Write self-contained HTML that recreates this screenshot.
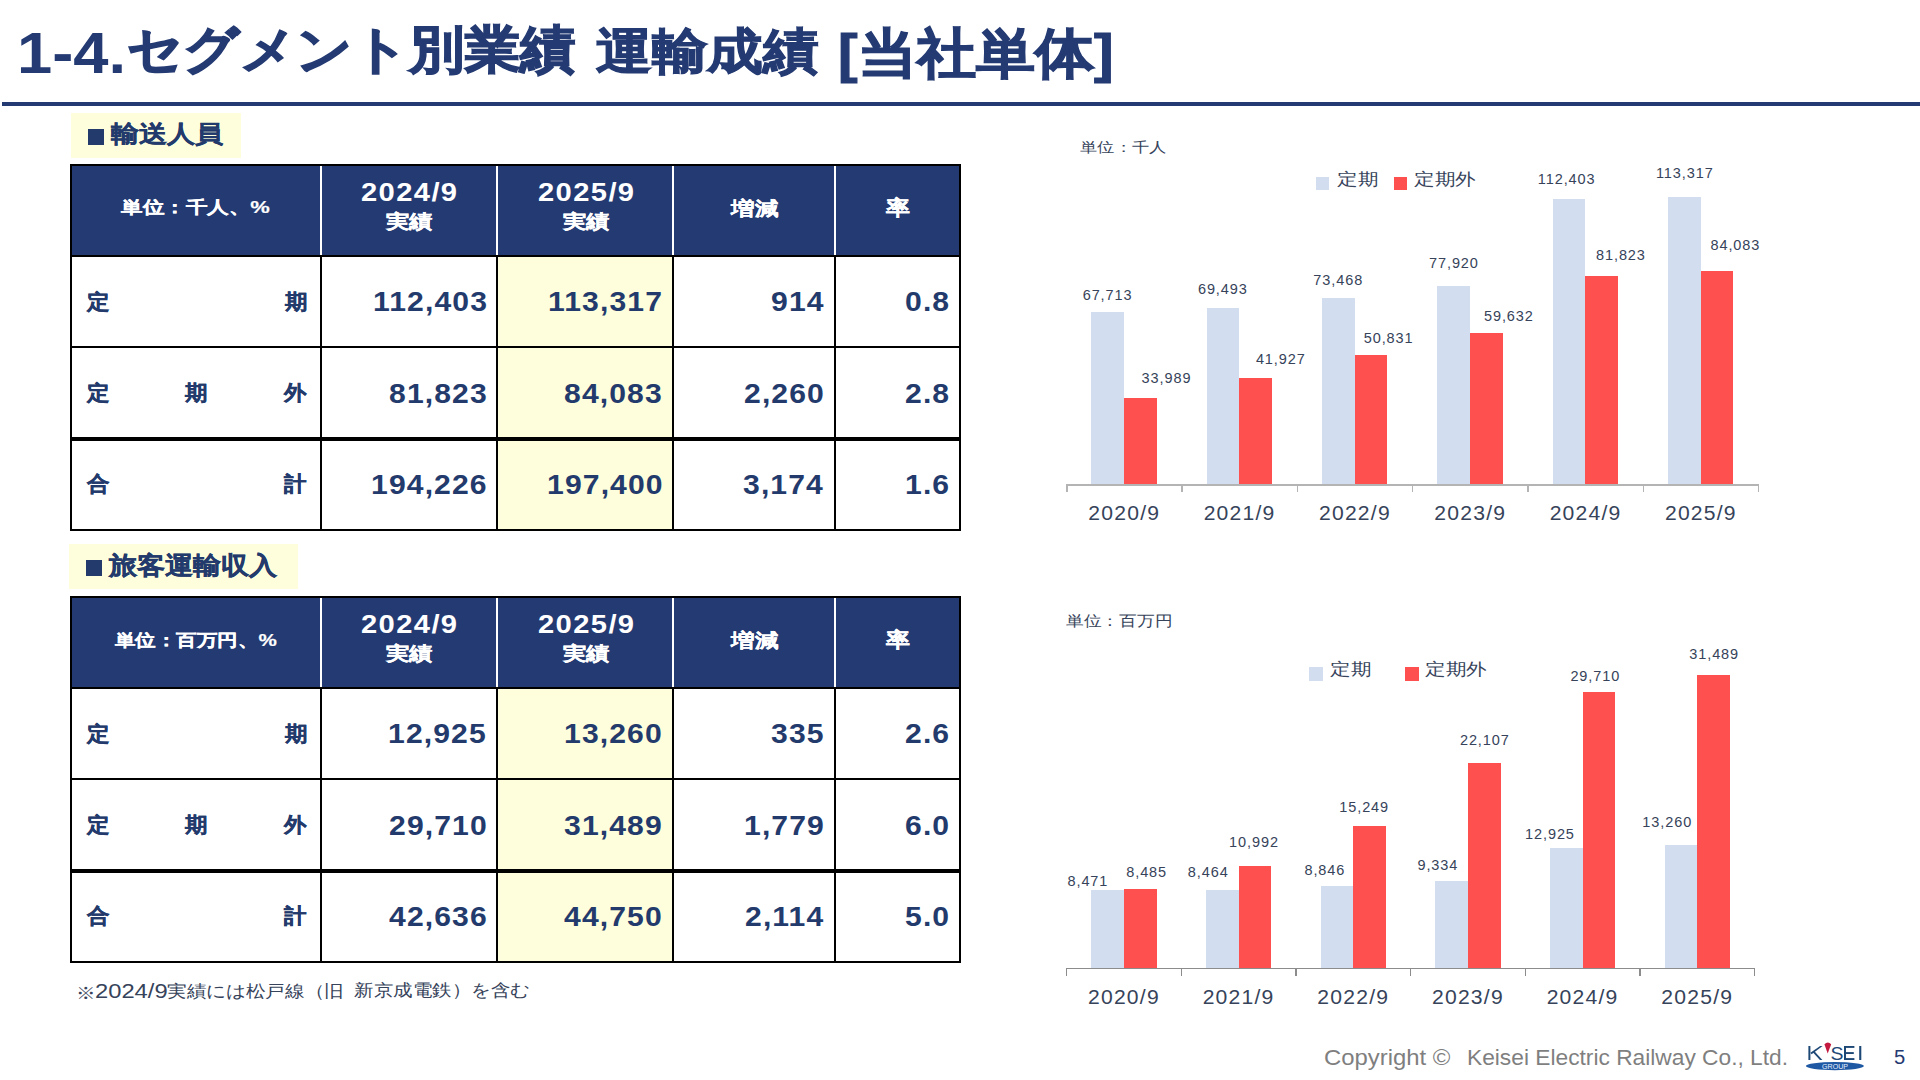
<!DOCTYPE html>
<html lang="ja"><head><meta charset="utf-8"><title>1-4.セグメント別業績 運輸成績</title>
<style>
html,body{margin:0;padding:0;}
body{width:1920px;height:1080px;position:relative;overflow:hidden;background:#fff;font-family:"Liberation Sans",sans-serif;}
.r{position:absolute;}
.t{position:absolute;white-space:pre;transform-origin:0 0;}
</style></head><body>
<div class="r" style="left:2.00px;top:102.00px;width:1918.00px;height:4.00px;background:#243a73;"></div>
<div class="r" style="left:71.00px;top:113.00px;width:170.00px;height:45.00px;background:#fefedc;"></div>
<div class="r" style="left:69.00px;top:544.00px;width:228.60px;height:45.00px;background:#fefedc;"></div>
<div class="r" style="left:88.00px;top:129.40px;width:16.30px;height:15.60px;background:#233a6c;"></div>
<div class="r" style="left:86.00px;top:560.00px;width:15.70px;height:15.50px;background:#233a6c;"></div>
<div class="r" style="left:70.00px;top:164.00px;width:891.00px;height:93.00px;background:#243a73;"></div>
<div class="r" style="left:498.00px;top:257.00px;width:175.00px;height:273.00px;background:#fefedc;"></div>
<div class="r" style="left:320.00px;top:166.00px;width:2.00px;height:89.00px;background:#ffffff;"></div>
<div class="r" style="left:496.00px;top:166.00px;width:2.00px;height:89.00px;background:#ffffff;"></div>
<div class="r" style="left:672.00px;top:166.00px;width:2.00px;height:89.00px;background:#ffffff;"></div>
<div class="r" style="left:834.00px;top:166.00px;width:2.00px;height:89.00px;background:#ffffff;"></div>
<div class="r" style="left:70.00px;top:164.00px;width:891.00px;height:2.00px;background:#000;"></div>
<div class="r" style="left:70.00px;top:529.00px;width:891.00px;height:2.00px;background:#000;"></div>
<div class="r" style="left:70.00px;top:164.00px;width:2.00px;height:367.00px;background:#000;"></div>
<div class="r" style="left:959.00px;top:164.00px;width:2.00px;height:367.00px;background:#000;"></div>
<div class="r" style="left:70.00px;top:255.00px;width:891.00px;height:2.00px;background:#000;"></div>
<div class="r" style="left:70.00px;top:346.00px;width:891.00px;height:2.00px;background:#000;"></div>
<div class="r" style="left:70.00px;top:437.00px;width:891.00px;height:4.00px;background:#000;"></div>
<div class="r" style="left:320.00px;top:255.00px;width:2.00px;height:276.00px;background:#000;"></div>
<div class="r" style="left:496.00px;top:255.00px;width:2.00px;height:276.00px;background:#000;"></div>
<div class="r" style="left:672.00px;top:255.00px;width:2.00px;height:276.00px;background:#000;"></div>
<div class="r" style="left:834.00px;top:255.00px;width:2.00px;height:276.00px;background:#000;"></div>
<div class="r" style="left:70.00px;top:596.00px;width:891.00px;height:93.00px;background:#243a73;"></div>
<div class="r" style="left:498.00px;top:689.00px;width:175.00px;height:273.00px;background:#fefedc;"></div>
<div class="r" style="left:320.00px;top:598.00px;width:2.00px;height:89.00px;background:#ffffff;"></div>
<div class="r" style="left:496.00px;top:598.00px;width:2.00px;height:89.00px;background:#ffffff;"></div>
<div class="r" style="left:672.00px;top:598.00px;width:2.00px;height:89.00px;background:#ffffff;"></div>
<div class="r" style="left:834.00px;top:598.00px;width:2.00px;height:89.00px;background:#ffffff;"></div>
<div class="r" style="left:70.00px;top:596.00px;width:891.00px;height:2.00px;background:#000;"></div>
<div class="r" style="left:70.00px;top:961.00px;width:891.00px;height:2.00px;background:#000;"></div>
<div class="r" style="left:70.00px;top:596.00px;width:2.00px;height:367.00px;background:#000;"></div>
<div class="r" style="left:959.00px;top:596.00px;width:2.00px;height:367.00px;background:#000;"></div>
<div class="r" style="left:70.00px;top:687.00px;width:891.00px;height:2.00px;background:#000;"></div>
<div class="r" style="left:70.00px;top:778.00px;width:891.00px;height:2.00px;background:#000;"></div>
<div class="r" style="left:70.00px;top:869.00px;width:891.00px;height:4.00px;background:#000;"></div>
<div class="r" style="left:320.00px;top:687.00px;width:2.00px;height:276.00px;background:#000;"></div>
<div class="r" style="left:496.00px;top:687.00px;width:2.00px;height:276.00px;background:#000;"></div>
<div class="r" style="left:672.00px;top:687.00px;width:2.00px;height:276.00px;background:#000;"></div>
<div class="r" style="left:834.00px;top:687.00px;width:2.00px;height:276.00px;background:#000;"></div>
<div class="r" style="left:1091.40px;top:312.30px;width:32.60px;height:171.90px;background:#d2ddf0;"></div>
<div class="r" style="left:1124.00px;top:397.91px;width:32.60px;height:86.29px;background:#ff5050;"></div>
<div class="r" style="left:1206.73px;top:307.78px;width:32.60px;height:176.42px;background:#d2ddf0;"></div>
<div class="r" style="left:1239.33px;top:377.76px;width:32.60px;height:106.44px;background:#ff5050;"></div>
<div class="r" style="left:1322.06px;top:297.69px;width:32.60px;height:186.51px;background:#d2ddf0;"></div>
<div class="r" style="left:1354.66px;top:355.16px;width:32.60px;height:129.04px;background:#ff5050;"></div>
<div class="r" style="left:1437.39px;top:286.39px;width:32.60px;height:197.81px;background:#d2ddf0;"></div>
<div class="r" style="left:1469.99px;top:332.81px;width:32.60px;height:151.39px;background:#ff5050;"></div>
<div class="r" style="left:1552.72px;top:198.85px;width:32.60px;height:285.35px;background:#d2ddf0;"></div>
<div class="r" style="left:1585.32px;top:276.48px;width:32.60px;height:207.72px;background:#ff5050;"></div>
<div class="r" style="left:1668.05px;top:196.53px;width:32.60px;height:287.67px;background:#d2ddf0;"></div>
<div class="r" style="left:1700.65px;top:270.74px;width:32.60px;height:213.46px;background:#ff5050;"></div>
<div class="r" style="left:1066.00px;top:484.00px;width:693.00px;height:2.00px;background:#b4b4b4;"></div>
<div class="r" style="left:1066.00px;top:484.00px;width:1.50px;height:8.00px;background:#b4b4b4;"></div>
<div class="r" style="left:1181.33px;top:484.00px;width:1.50px;height:8.00px;background:#b4b4b4;"></div>
<div class="r" style="left:1296.66px;top:484.00px;width:1.50px;height:8.00px;background:#b4b4b4;"></div>
<div class="r" style="left:1411.99px;top:484.00px;width:1.50px;height:8.00px;background:#b4b4b4;"></div>
<div class="r" style="left:1527.32px;top:484.00px;width:1.50px;height:8.00px;background:#b4b4b4;"></div>
<div class="r" style="left:1642.65px;top:484.00px;width:1.50px;height:8.00px;background:#b4b4b4;"></div>
<div class="r" style="left:1757.98px;top:484.00px;width:1.50px;height:8.00px;background:#b4b4b4;"></div>
<div class="r" style="left:1091.40px;top:889.51px;width:32.60px;height:78.79px;background:#d2ddf0;"></div>
<div class="r" style="left:1124.00px;top:889.38px;width:32.60px;height:78.92px;background:#ff5050;"></div>
<div class="r" style="left:1206.07px;top:889.57px;width:32.60px;height:78.73px;background:#d2ddf0;"></div>
<div class="r" style="left:1238.67px;top:866.06px;width:32.60px;height:102.24px;background:#ff5050;"></div>
<div class="r" style="left:1320.74px;top:886.02px;width:32.60px;height:82.28px;background:#d2ddf0;"></div>
<div class="r" style="left:1353.34px;top:826.46px;width:32.60px;height:141.84px;background:#ff5050;"></div>
<div class="r" style="left:1435.41px;top:881.48px;width:32.60px;height:86.82px;background:#d2ddf0;"></div>
<div class="r" style="left:1468.01px;top:762.67px;width:32.60px;height:205.63px;background:#ff5050;"></div>
<div class="r" style="left:1550.08px;top:848.08px;width:32.60px;height:120.22px;background:#d2ddf0;"></div>
<div class="r" style="left:1582.68px;top:691.95px;width:32.60px;height:276.35px;background:#ff5050;"></div>
<div class="r" style="left:1664.75px;top:844.96px;width:32.60px;height:123.34px;background:#d2ddf0;"></div>
<div class="r" style="left:1697.35px;top:675.40px;width:32.60px;height:292.90px;background:#ff5050;"></div>
<div class="r" style="left:1066.00px;top:968.00px;width:689.00px;height:1.30px;background:#8c8c8c;"></div>
<div class="r" style="left:1066.00px;top:968.00px;width:1.20px;height:8.00px;background:#8c8c8c;"></div>
<div class="r" style="left:1180.67px;top:968.00px;width:1.20px;height:8.00px;background:#8c8c8c;"></div>
<div class="r" style="left:1295.34px;top:968.00px;width:1.20px;height:8.00px;background:#8c8c8c;"></div>
<div class="r" style="left:1410.01px;top:968.00px;width:1.20px;height:8.00px;background:#8c8c8c;"></div>
<div class="r" style="left:1524.68px;top:968.00px;width:1.20px;height:8.00px;background:#8c8c8c;"></div>
<div class="r" style="left:1639.35px;top:968.00px;width:1.20px;height:8.00px;background:#8c8c8c;"></div>
<div class="r" style="left:1754.02px;top:968.00px;width:1.20px;height:8.00px;background:#8c8c8c;"></div>
<div class="r" style="left:1316.40px;top:177.00px;width:13.10px;height:12.50px;background:#d2ddf0;"></div>
<div class="r" style="left:1393.60px;top:177.00px;width:13.10px;height:12.50px;background:#ff5050;"></div>
<div class="r" style="left:1309.10px;top:667.30px;width:13.70px;height:13.30px;background:#d2ddf0;"></div>
<div class="r" style="left:1405.40px;top:667.30px;width:13.40px;height:13.30px;background:#ff5050;"></div>
<div class="t" style="left:17.45px;top:23.79px;font-size:58.10px;line-height:58.10px;color:#243a73;font-weight:bold;transform:scaleX(1.0896);">1-4.</div>
<div class="t" style="left:126.80px;top:24.70px;font-size:50.77px;line-height:50.77px;color:#243a73;font-weight:bold;-webkit-text-stroke:0.028em #243a73;transform:scaleX(1.0855);">セグメント別業績</div>
<div class="t" style="left:595.55px;top:26.90px;font-size:48.56px;line-height:48.56px;color:#243a73;font-weight:bold;-webkit-text-stroke:0.022em #243a73;transform:scaleX(1.1358);">運輸成績</div>
<div class="t" style="left:838.25px;top:27.44px;font-size:53.61px;line-height:53.61px;color:#243a73;font-weight:bold;-webkit-text-stroke:0.022em #243a73;transform:scaleX(1.0943);">[当社単体]</div>
<div class="t" style="left:111.28px;top:122.76px;font-size:23.53px;line-height:23.53px;color:#233a6c;font-weight:bold;-webkit-text-stroke:0.012em #233a6c;transform:scaleX(1.1722);">輸送人員</div>
<div class="t" style="left:109.33px;top:553.74px;font-size:24.53px;line-height:24.53px;color:#233a6c;font-weight:bold;-webkit-text-stroke:0.012em #233a6c;transform:scaleX(1.1225);">旅客運輸収入</div>
<div class="t" style="left:121.00px;top:199.17px;font-size:17.31px;line-height:17.31px;color:#ffffff;font-weight:bold;-webkit-text-stroke:0.012em #ffffff;transform:scaleX(1.2666);">単位：千人、%</div>
<div class="t" style="left:361.33px;top:180.05px;font-size:25.63px;line-height:25.63px;color:#ffffff;font-weight:bold;transform:scaleX(1.1366);letter-spacing:1.23px;">2024/9</div>
<div class="t" style="left:386.27px;top:212.18px;font-size:19.25px;line-height:19.25px;color:#ffffff;font-weight:bold;-webkit-text-stroke:0.012em #ffffff;transform:scaleX(1.2279);">実績</div>
<div class="t" style="left:731.35px;top:198.57px;font-size:19.23px;line-height:19.23px;color:#ffffff;font-weight:bold;-webkit-text-stroke:0.012em #ffffff;transform:scaleX(1.2382);">増減</div>
<div class="t" style="left:886.00px;top:198.02px;font-size:20.59px;line-height:20.59px;color:#ffffff;font-weight:bold;-webkit-text-stroke:0.012em #ffffff;transform:scaleX(1.1399);">率</div>
<div class="t" style="left:114.80px;top:631.66px;font-size:17.07px;line-height:17.07px;color:#ffffff;font-weight:bold;-webkit-text-stroke:0.012em #ffffff;transform:scaleX(1.2058);">単位：百万円、%</div>
<div class="t" style="left:361.33px;top:612.05px;font-size:25.63px;line-height:25.63px;color:#ffffff;font-weight:bold;transform:scaleX(1.1366);letter-spacing:1.23px;">2024/9</div>
<div class="t" style="left:386.27px;top:644.18px;font-size:19.25px;line-height:19.25px;color:#ffffff;font-weight:bold;-webkit-text-stroke:0.012em #ffffff;transform:scaleX(1.2279);">実績</div>
<div class="t" style="left:731.35px;top:630.57px;font-size:19.23px;line-height:19.23px;color:#ffffff;font-weight:bold;-webkit-text-stroke:0.012em #ffffff;transform:scaleX(1.2382);">増減</div>
<div class="t" style="left:886.00px;top:630.02px;font-size:20.59px;line-height:20.59px;color:#ffffff;font-weight:bold;-webkit-text-stroke:0.012em #ffffff;transform:scaleX(1.1399);">率</div>
<div class="t" style="left:372.59px;top:287.92px;font-size:27.18px;line-height:27.18px;color:#233a6c;font-weight:bold;transform:scaleX(1.1081);letter-spacing:1.02px;">112,403</div>
<div class="t" style="left:1079.64px;top:139.51px;font-size:14.49px;line-height:14.49px;color:#36435a;font-weight:normal;transform:scaleX(1.2336);">単位：千人</div>
<div class="t" style="left:1065.93px;top:612.83px;font-size:15.48px;line-height:15.48px;color:#36435a;font-weight:normal;transform:scaleX(1.1826);">単位：百万円</div>
<div class="t" style="left:1336.50px;top:171.60px;font-size:16.57px;line-height:16.57px;color:#36435a;font-weight:normal;transform:scaleX(1.2105);">定期</div>
<div class="t" style="left:354.00px;top:982.33px;font-size:17.33px;line-height:17.33px;color:#36435a;font-weight:normal;transform:scaleX(1.1485);">新京成電鉄）を含む</div>
<div class="t" style="left:167.11px;top:982.50px;font-size:17.16px;line-height:17.16px;color:#36435a;font-weight:normal;transform:scaleX(1.1572);">実績には松戸線（旧</div>
<div class="t" style="left:95.41px;top:981.97px;font-size:19.51px;line-height:19.51px;color:#36435a;font-weight:normal;transform:scaleX(1.2175);">2024/9</div>
<div class="t" style="left:1466.78px;top:1046.65px;font-size:22.17px;line-height:22.17px;color:#7f7f7f;font-weight:normal;transform:scaleX(1.0265);">Keisei Electric Railway Co., Ltd.</div>
<div class="t" style="left:1324.40px;top:1046.65px;font-size:22.17px;line-height:22.17px;color:#7f7f7f;font-weight:normal;transform:scaleX(1.0779);">Copyright ©</div>
<div class="t" style="left:1893.69px;top:1046.92px;font-size:20.56px;line-height:20.56px;color:#243a73;font-weight:normal;transform:scaleX(0.9829);">5</div>
<div class="t" style="left:538.08px;top:180.05px;font-size:25.63px;line-height:25.63px;color:#ffffff;font-weight:bold;transform:scaleX(1.1366);letter-spacing:1.23px;">2025/9</div>
<div class="t" style="left:562.97px;top:212.18px;font-size:19.25px;line-height:19.25px;color:#ffffff;font-weight:bold;-webkit-text-stroke:0.012em #ffffff;transform:scaleX(1.2279);">実績</div>
<div class="t" style="left:538.08px;top:612.05px;font-size:25.63px;line-height:25.63px;color:#ffffff;font-weight:bold;transform:scaleX(1.1366);letter-spacing:1.23px;">2025/9</div>
<div class="t" style="left:562.97px;top:644.18px;font-size:19.25px;line-height:19.25px;color:#ffffff;font-weight:bold;-webkit-text-stroke:0.012em #ffffff;transform:scaleX(1.2279);">実績</div>
<div class="t" style="left:548.19px;top:287.92px;font-size:27.18px;line-height:27.18px;color:#233a6c;font-weight:bold;transform:scaleX(1.1081);letter-spacing:1.02px;">113,317</div>
<div class="t" style="left:770.74px;top:287.92px;font-size:27.18px;line-height:27.18px;color:#233a6c;font-weight:bold;transform:scaleX(1.1081);letter-spacing:1.02px;">914</div>
<div class="t" style="left:904.97px;top:287.92px;font-size:27.18px;line-height:27.18px;color:#233a6c;font-weight:bold;transform:scaleX(1.1081);letter-spacing:1.02px;">0.8</div>
<div class="t" style="left:388.78px;top:379.52px;font-size:27.18px;line-height:27.18px;color:#233a6c;font-weight:bold;transform:scaleX(1.1081);letter-spacing:1.02px;">81,823</div>
<div class="t" style="left:564.38px;top:379.52px;font-size:27.18px;line-height:27.18px;color:#233a6c;font-weight:bold;transform:scaleX(1.1081);letter-spacing:1.02px;">84,083</div>
<div class="t" style="left:744.38px;top:379.52px;font-size:27.18px;line-height:27.18px;color:#233a6c;font-weight:bold;transform:scaleX(1.1081);letter-spacing:1.02px;">2,260</div>
<div class="t" style="left:904.97px;top:379.52px;font-size:27.18px;line-height:27.18px;color:#233a6c;font-weight:bold;transform:scaleX(1.1081);letter-spacing:1.02px;">2.8</div>
<div class="t" style="left:370.79px;top:470.92px;font-size:27.18px;line-height:27.18px;color:#233a6c;font-weight:bold;transform:scaleX(1.1081);letter-spacing:1.02px;">194,226</div>
<div class="t" style="left:546.69px;top:470.92px;font-size:27.18px;line-height:27.18px;color:#233a6c;font-weight:bold;transform:scaleX(1.1081);letter-spacing:1.02px;">197,400</div>
<div class="t" style="left:743.18px;top:470.92px;font-size:27.18px;line-height:27.18px;color:#233a6c;font-weight:bold;transform:scaleX(1.1081);letter-spacing:1.02px;">3,174</div>
<div class="t" style="left:904.97px;top:470.92px;font-size:27.18px;line-height:27.18px;color:#233a6c;font-weight:bold;transform:scaleX(1.1081);letter-spacing:1.02px;">1.6</div>
<div class="t" style="left:86.67px;top:291.90px;font-size:20.88px;line-height:20.88px;color:#233a6c;font-weight:bold;-webkit-text-stroke:0.015em #233a6c;transform:scaleX(1.0693);">定</div>
<div class="t" style="left:285.01px;top:291.90px;font-size:20.88px;line-height:20.88px;color:#233a6c;font-weight:bold;-webkit-text-stroke:0.015em #233a6c;transform:scaleX(1.0693);">期</div>
<div class="t" style="left:86.67px;top:383.30px;font-size:20.88px;line-height:20.88px;color:#233a6c;font-weight:bold;-webkit-text-stroke:0.015em #233a6c;transform:scaleX(1.0693);">定</div>
<div class="t" style="left:184.72px;top:383.30px;font-size:20.88px;line-height:20.88px;color:#233a6c;font-weight:bold;-webkit-text-stroke:0.015em #233a6c;transform:scaleX(1.0693);">期</div>
<div class="t" style="left:283.75px;top:383.30px;font-size:20.88px;line-height:20.88px;color:#233a6c;font-weight:bold;-webkit-text-stroke:0.015em #233a6c;transform:scaleX(1.0693);">外</div>
<div class="t" style="left:86.67px;top:473.70px;font-size:20.88px;line-height:20.88px;color:#233a6c;font-weight:bold;-webkit-text-stroke:0.015em #233a6c;transform:scaleX(1.0693);">合</div>
<div class="t" style="left:283.89px;top:473.70px;font-size:20.88px;line-height:20.88px;color:#233a6c;font-weight:bold;-webkit-text-stroke:0.015em #233a6c;transform:scaleX(1.0693);">計</div>
<div class="t" style="left:388.48px;top:719.92px;font-size:27.18px;line-height:27.18px;color:#233a6c;font-weight:bold;transform:scaleX(1.1081);letter-spacing:1.02px;">12,925</div>
<div class="t" style="left:564.38px;top:719.92px;font-size:27.18px;line-height:27.18px;color:#233a6c;font-weight:bold;transform:scaleX(1.1081);letter-spacing:1.02px;">13,260</div>
<div class="t" style="left:771.34px;top:719.92px;font-size:27.18px;line-height:27.18px;color:#233a6c;font-weight:bold;transform:scaleX(1.1081);letter-spacing:1.02px;">335</div>
<div class="t" style="left:904.97px;top:719.92px;font-size:27.18px;line-height:27.18px;color:#233a6c;font-weight:bold;transform:scaleX(1.1081);letter-spacing:1.02px;">2.6</div>
<div class="t" style="left:388.78px;top:811.52px;font-size:27.18px;line-height:27.18px;color:#233a6c;font-weight:bold;transform:scaleX(1.1081);letter-spacing:1.02px;">29,710</div>
<div class="t" style="left:564.38px;top:811.52px;font-size:27.18px;line-height:27.18px;color:#233a6c;font-weight:bold;transform:scaleX(1.1081);letter-spacing:1.02px;">31,489</div>
<div class="t" style="left:744.08px;top:811.52px;font-size:27.18px;line-height:27.18px;color:#233a6c;font-weight:bold;transform:scaleX(1.1081);letter-spacing:1.02px;">1,779</div>
<div class="t" style="left:905.28px;top:811.52px;font-size:27.18px;line-height:27.18px;color:#233a6c;font-weight:bold;transform:scaleX(1.1081);letter-spacing:1.02px;">6.0</div>
<div class="t" style="left:388.78px;top:902.92px;font-size:27.18px;line-height:27.18px;color:#233a6c;font-weight:bold;transform:scaleX(1.1081);letter-spacing:1.02px;">42,636</div>
<div class="t" style="left:564.38px;top:902.92px;font-size:27.18px;line-height:27.18px;color:#233a6c;font-weight:bold;transform:scaleX(1.1081);letter-spacing:1.02px;">44,750</div>
<div class="t" style="left:744.98px;top:902.92px;font-size:27.18px;line-height:27.18px;color:#233a6c;font-weight:bold;transform:scaleX(1.1081);letter-spacing:1.02px;">2,114</div>
<div class="t" style="left:905.28px;top:902.92px;font-size:27.18px;line-height:27.18px;color:#233a6c;font-weight:bold;transform:scaleX(1.1081);letter-spacing:1.02px;">5.0</div>
<div class="t" style="left:86.67px;top:723.90px;font-size:20.88px;line-height:20.88px;color:#233a6c;font-weight:bold;-webkit-text-stroke:0.015em #233a6c;transform:scaleX(1.0693);">定</div>
<div class="t" style="left:285.01px;top:723.90px;font-size:20.88px;line-height:20.88px;color:#233a6c;font-weight:bold;-webkit-text-stroke:0.015em #233a6c;transform:scaleX(1.0693);">期</div>
<div class="t" style="left:86.67px;top:815.30px;font-size:20.88px;line-height:20.88px;color:#233a6c;font-weight:bold;-webkit-text-stroke:0.015em #233a6c;transform:scaleX(1.0693);">定</div>
<div class="t" style="left:184.72px;top:815.30px;font-size:20.88px;line-height:20.88px;color:#233a6c;font-weight:bold;-webkit-text-stroke:0.015em #233a6c;transform:scaleX(1.0693);">期</div>
<div class="t" style="left:283.75px;top:815.30px;font-size:20.88px;line-height:20.88px;color:#233a6c;font-weight:bold;-webkit-text-stroke:0.015em #233a6c;transform:scaleX(1.0693);">外</div>
<div class="t" style="left:86.67px;top:905.70px;font-size:20.88px;line-height:20.88px;color:#233a6c;font-weight:bold;-webkit-text-stroke:0.015em #233a6c;transform:scaleX(1.0693);">合</div>
<div class="t" style="left:283.89px;top:905.70px;font-size:20.88px;line-height:20.88px;color:#233a6c;font-weight:bold;-webkit-text-stroke:0.015em #233a6c;transform:scaleX(1.0693);">計</div>
<div class="t" style="left:1413.80px;top:171.60px;font-size:16.57px;line-height:16.57px;color:#36435a;font-weight:normal;transform:scaleX(1.2105);">定期外</div>
<div class="t" style="left:1329.80px;top:662.00px;font-size:16.57px;line-height:16.57px;color:#36435a;font-weight:normal;transform:scaleX(1.2105);">定期</div>
<div class="t" style="left:1425.40px;top:662.00px;font-size:16.57px;line-height:16.57px;color:#36435a;font-weight:normal;transform:scaleX(1.2105);">定期外</div>
<div class="t" style="left:1082.67px;top:287.87px;font-size:14.51px;line-height:14.51px;color:#36435a;font-weight:normal;letter-spacing:0.91px;">67,713</div>
<div class="t" style="left:1141.55px;top:370.87px;font-size:14.51px;line-height:14.51px;color:#36435a;font-weight:normal;letter-spacing:0.91px;">33,989</div>
<div class="t" style="left:1197.92px;top:281.87px;font-size:14.51px;line-height:14.51px;color:#36435a;font-weight:normal;letter-spacing:0.91px;">69,493</div>
<div class="t" style="left:1255.89px;top:351.72px;font-size:14.51px;line-height:14.51px;color:#36435a;font-weight:normal;letter-spacing:0.91px;">41,927</div>
<div class="t" style="left:1313.35px;top:272.72px;font-size:14.51px;line-height:14.51px;color:#36435a;font-weight:normal;letter-spacing:0.91px;">73,468</div>
<div class="t" style="left:1363.70px;top:330.82px;font-size:14.51px;line-height:14.51px;color:#36435a;font-weight:normal;letter-spacing:0.91px;">50,831</div>
<div class="t" style="left:1429.00px;top:256.12px;font-size:14.51px;line-height:14.51px;color:#36435a;font-weight:normal;letter-spacing:0.91px;">77,920</div>
<div class="t" style="left:1483.95px;top:308.67px;font-size:14.51px;line-height:14.51px;color:#36435a;font-weight:normal;letter-spacing:0.91px;">59,632</div>
<div class="t" style="left:1537.80px;top:171.72px;font-size:14.51px;line-height:14.51px;color:#36435a;font-weight:normal;letter-spacing:0.91px;">112,403</div>
<div class="t" style="left:1596.00px;top:248.17px;font-size:14.51px;line-height:14.51px;color:#36435a;font-weight:normal;letter-spacing:0.91px;">81,823</div>
<div class="t" style="left:1655.97px;top:166.12px;font-size:14.51px;line-height:14.51px;color:#36435a;font-weight:normal;letter-spacing:0.91px;">113,317</div>
<div class="t" style="left:1710.45px;top:238.07px;font-size:14.51px;line-height:14.51px;color:#36435a;font-weight:normal;letter-spacing:0.91px;">84,083</div>
<div class="t" style="left:1067.49px;top:873.87px;font-size:14.51px;line-height:14.51px;color:#36435a;font-weight:normal;letter-spacing:0.91px;">8,471</div>
<div class="t" style="left:1126.24px;top:864.97px;font-size:14.51px;line-height:14.51px;color:#36435a;font-weight:normal;letter-spacing:0.91px;">8,485</div>
<div class="t" style="left:1187.82px;top:864.97px;font-size:14.51px;line-height:14.51px;color:#36435a;font-weight:normal;letter-spacing:0.91px;">8,464</div>
<div class="t" style="left:1229.11px;top:835.02px;font-size:14.51px;line-height:14.51px;color:#36435a;font-weight:normal;letter-spacing:0.91px;">10,992</div>
<div class="t" style="left:1304.44px;top:863.17px;font-size:14.51px;line-height:14.51px;color:#36435a;font-weight:normal;letter-spacing:0.91px;">8,846</div>
<div class="t" style="left:1339.26px;top:799.87px;font-size:14.51px;line-height:14.51px;color:#36435a;font-weight:normal;letter-spacing:0.91px;">15,249</div>
<div class="t" style="left:1417.45px;top:857.77px;font-size:14.51px;line-height:14.51px;color:#36435a;font-weight:normal;letter-spacing:0.91px;">9,334</div>
<div class="t" style="left:1459.92px;top:733.02px;font-size:14.51px;line-height:14.51px;color:#36435a;font-weight:normal;letter-spacing:0.91px;">22,107</div>
<div class="t" style="left:1525.03px;top:827.27px;font-size:14.51px;line-height:14.51px;color:#36435a;font-weight:normal;letter-spacing:0.91px;">12,925</div>
<div class="t" style="left:1570.40px;top:669.07px;font-size:14.51px;line-height:14.51px;color:#36435a;font-weight:normal;letter-spacing:0.91px;">29,710</div>
<div class="t" style="left:1642.33px;top:815.12px;font-size:14.51px;line-height:14.51px;color:#36435a;font-weight:normal;letter-spacing:0.91px;">13,260</div>
<div class="t" style="left:1689.25px;top:646.92px;font-size:14.51px;line-height:14.51px;color:#36435a;font-weight:normal;letter-spacing:0.91px;">31,489</div>
<div class="t" style="left:1088.31px;top:502.03px;font-size:21.13px;line-height:21.13px;color:#36435a;font-weight:normal;letter-spacing:1.21px;">2020/9</div>
<div class="t" style="left:1203.64px;top:502.03px;font-size:21.13px;line-height:21.13px;color:#36435a;font-weight:normal;letter-spacing:1.21px;">2021/9</div>
<div class="t" style="left:1318.97px;top:502.03px;font-size:21.13px;line-height:21.13px;color:#36435a;font-weight:normal;letter-spacing:1.21px;">2022/9</div>
<div class="t" style="left:1434.30px;top:502.03px;font-size:21.13px;line-height:21.13px;color:#36435a;font-weight:normal;letter-spacing:1.21px;">2023/9</div>
<div class="t" style="left:1549.63px;top:502.03px;font-size:21.13px;line-height:21.13px;color:#36435a;font-weight:normal;letter-spacing:1.21px;">2024/9</div>
<div class="t" style="left:1664.96px;top:502.03px;font-size:21.13px;line-height:21.13px;color:#36435a;font-weight:normal;letter-spacing:1.21px;">2025/9</div>
<div class="t" style="left:1087.98px;top:986.13px;font-size:21.13px;line-height:21.13px;color:#36435a;font-weight:normal;letter-spacing:1.21px;">2020/9</div>
<div class="t" style="left:1202.65px;top:986.13px;font-size:21.13px;line-height:21.13px;color:#36435a;font-weight:normal;letter-spacing:1.21px;">2021/9</div>
<div class="t" style="left:1317.32px;top:986.13px;font-size:21.13px;line-height:21.13px;color:#36435a;font-weight:normal;letter-spacing:1.21px;">2022/9</div>
<div class="t" style="left:1431.99px;top:986.13px;font-size:21.13px;line-height:21.13px;color:#36435a;font-weight:normal;letter-spacing:1.21px;">2023/9</div>
<div class="t" style="left:1546.66px;top:986.13px;font-size:21.13px;line-height:21.13px;color:#36435a;font-weight:normal;letter-spacing:1.21px;">2024/9</div>
<div class="t" style="left:1661.33px;top:986.13px;font-size:21.13px;line-height:21.13px;color:#36435a;font-weight:normal;letter-spacing:1.21px;">2025/9</div>
<div class="t" style="left:75.51px;top:984.73px;font-size:17.33px;line-height:17.33px;color:#36435a;font-weight:normal;transform:scaleX(1.1485);">※</div>
<svg class="r" style="left:1800px;top:1038px" width="72" height="36" viewBox="0 0 72 36">
<ellipse cx="34.9" cy="28.05" rx="29" ry="4.1" fill="#1f58a3"/>
<text x="35" y="31.2" text-anchor="middle" font-family="Liberation Sans" font-size="7.6" fill="#e8f0ff" textLength="26" lengthAdjust="spacingAndGlyphs">GROUP</text>
<g fill="#1d4876">
<rect x="8.4" y="8" width="2" height="14"/>
<polygon points="20.2,8 22.6,8 11.6,16.2 10.4,14.8"/>
<polygon points="12.6,13.9 14.2,12.9 22.4,22 19.9,22"/>
<rect x="44" y="8" width="2" height="14"/>
<rect x="44" y="8" width="10.4" height="1.9"/>
<rect x="44" y="14.1" width="9.8" height="1.9"/>
<rect x="44" y="20.1" width="10.4" height="1.9"/>
<rect x="59.2" y="8" width="2.1" height="14"/>
</g>
<text x="30.6" y="22" font-family="Liberation Sans" font-size="19.2" fill="#1d4876" textLength="13" lengthAdjust="spacingAndGlyphs">S</text>
<path d="M24.4,6.2 Q27.8,2.6 31.2,6.2 L27.7,15.4 Z" fill="#c41a40"/>
</svg>
</body></html>
